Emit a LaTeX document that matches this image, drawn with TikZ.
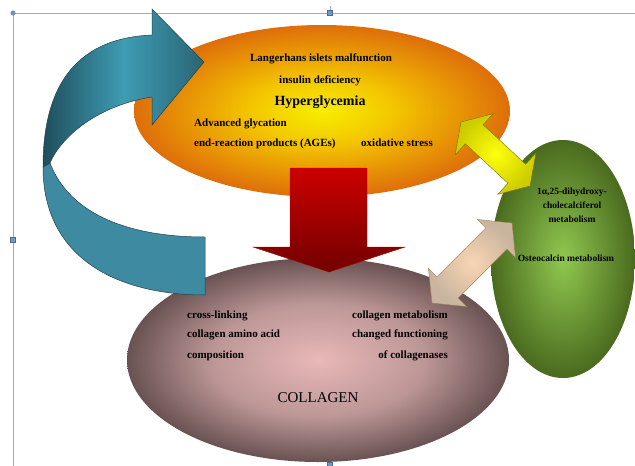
\documentclass[tikz,border=0pt]{standalone}
\usepackage{fontspec}
\setmainfont{Liberation Serif}
\usetikzlibrary{calc}
\usetikzlibrary{shapes.geometric}

\definecolor{hyperIn}{HTML}{F6EE00}
\definecolor{hyperMid}{HTML}{F4C800}
\definecolor{hyperOut}{HTML}{DE6E0A}
\definecolor{collIn}{HTML}{E9B8B8}
\definecolor{collMid}{HTML}{BC9696}
\definecolor{collOut}{HTML}{6A5252}
\definecolor{vitIn}{HTML}{90C850}
\definecolor{vitOut}{HTML}{4A6A1E}
\definecolor{bandBlue}{HTML}{3E8BA1}
\definecolor{bandDark}{HTML}{1F4E5C}
\definecolor{bandLight}{HTML}{3E9CB4}
\definecolor{bandHead}{HTML}{2A6474}
\definecolor{bandLine}{HTML}{24424C}
\definecolor{frameGray}{HTML}{A3AAB4}
\definecolor{handleBlue}{HTML}{6E97CF}

\pgfdeclareradialshading{hyperglow}{\pgfpoint{0bp}{0bp}}{color(0bp)=(hyperIn); color(9bp)=(hyperMid); color(25bp)=(hyperOut); color(50bp)=(hyperOut)}
\pgfdeclareradialshading{collglow}{\pgfpoint{0bp}{0bp}}{color(0bp)=(collIn); color(14bp)=(collMid); color(25bp)=(collOut); color(50bp)=(collOut)}
\pgfdeclareradialshading{vitglow}{\pgfpoint{0bp}{0bp}}{color(0bp)=(vitIn); color(25bp)=(vitOut); color(50bp)=(vitOut)}

% two-headed block arrow: options, from, to, head length, head half width, shaft half width
\newcommand\blockarrow[6]{%
  \path[#1] (#2) -- ($(#2)!#4!(#3)!#5!90:(#3)$) -- ($(#2)!#4!(#3)!#6!90:(#3)$)
    -- ($(#3)!#4!(#2)!#6!-90:(#2)$) -- ($(#3)!#4!(#2)!#5!-90:(#2)$) -- (#3)
    -- ($(#3)!#4!(#2)!#5!90:(#2)$) -- ($(#3)!#4!(#2)!#6!90:(#2)$)
    -- ($(#2)!#4!(#3)!#6!-90:(#3)$) -- ($(#2)!#4!(#3)!#5!-90:(#3)$) -- cycle;}

\tikzset{txt/.style = {font=\bfseries\fontsize{11}{13}\selectfont, inner sep=0, anchor=base}}
\tikzset{smalltxt/.style = {font=\bfseries\fontsize{9.5}{11}\selectfont, inner sep=0, anchor=base}}
\tikzset{handle/.style = {fill=handleBlue, draw=handleBlue!70!black, line width=0.3pt}}

\begin{document}
\begin{tikzpicture}[x=1pt, y=-1pt]
    \useasboundingbox (0,0) rectangle (635,466);

    % selection frame
    \draw [frameGray, line width=0.8pt] (13,466) -- (13,13) -- (635,13);
    \draw [frameGray, line width=0.5pt] (330,13) -- (330,6);
    \filldraw [handle] (13,13) circle (2.2pt);
    \filldraw [handle] (327.5,10.5) rectangle (332.5,15.5);
    \filldraw [handle] (10.5,237.5) rectangle (15.5,242.5);
    \filldraw [handle] (327.5,462.5) rectangle (332.5,467.5);

    % ellipses
    \node [ellipse, minimum width=376pt, minimum height=172pt, inner sep=0, shading=hyperglow] (hyperov) at (322,111) {};
    \node [ellipse, minimum width=382pt, minimum height=204pt, inner sep=0, shading=collglow] (collov) at (318,360) {};
    \node [ellipse, minimum width=144pt, minimum height=238pt, inner sep=0, shading=vitglow] (vitov) at (563,259) {};

    % circular arrow
    \filldraw [fill=bandBlue, draw=bandLine, line width=0.5pt] (50,163) .. controls (70,215) and (130,237) .. (205,237)
      -- (205,295) .. controls (120,295) and (43,260) .. (43,167) -- cycle;
    \path [draw=bandLine, line width=0.5pt, left color=bandDark, right color=bandHead, middle color=bandLight]
      (43,167) .. controls (43,81) and (80,38) .. (152,35) -- (152,9) -- (204,62) -- (152,125) -- (152,97)
      .. controls (100,105) and (62,135) .. (50,163) -- cycle;

    % down arrow
    \path [draw=red!70!black, line width=0.4pt, top color=red!80!black, bottom color=red!45!black]
      (290,168) -- (367,168) -- (367,247) -- (405,247) -- (329,272) -- (253,247) -- (290,247) -- cycle;

    % two-way arrows
    \coordinate (yelA) at (461,122);
    \coordinate (yelB) at (530,186);
    \coordinate (tanA) at (432,303);
    \coordinate (tanB) at (512,223);
    \blockarrow{draw=olive!80!black, line width=0.4pt, inner color=yellow!95!white, outer color=yellow!60!olive}{yelA}{yelB}{18pt}{28pt}{13pt}
    \blockarrow{draw=brown!60!gray, line width=0.4pt, inner color=orange!25!white!90!brown, outer color=brown!45!white!75!gray}{tanA}{tanB}{22pt}{27pt}{15pt}

    % Hyperglycemia texts
    \node [txt] (langer) at (321,61.5) {Langerhans islets malfunction};
    \node [txt] (insulin) at (320,83) {insulin deficiency};
    \node [txt, font=\bfseries\fontsize{14}{16}\selectfont] (hyper) at (320,105) {Hyperglycemia};
    \node [txt, anchor=base west] (glyc) at (194,126) {Advanced glycation};
    \node [txt, anchor=base west] (ages) at (194,146.5) {end-reaction products (AGEs)};
    \node [txt, anchor=base west] (oxid) at (361,146.5) {oxidative stress};

    % vitamin D texts
    \node [smalltxt] (dihyd) at (572,194) {1α,25-dihydroxy-};
    \node [smalltxt] (chole) at (572,208) {cholecalciferol};
    \node [smalltxt] (vitmet) at (572,222) {metabolism};
    \node [smalltxt] (osteo) at (566,261) {Osteocalcin metabolism};

    % collagen texts
    \node [txt, anchor=base west] (cross) at (187,318) {cross-linking};
    \node [txt, anchor=base west] (amino) at (187,337.5) {collagen amino acid};
    \node [txt, anchor=base west] (compo) at (187,358) {composition};
    \node [txt, anchor=base east] (colmet) at (448,318) {collagen metabolism};
    \node [txt, anchor=base east] (changed) at (448,337.5) {changed functioning};
    \node [txt, anchor=base east] (collase) at (448,358) {of collagenases};
    \node [txt, font=\fontsize{15}{17}\selectfont] (collagen) at (318,402.5) {COLLAGEN};

\end{tikzpicture}
\end{document}
